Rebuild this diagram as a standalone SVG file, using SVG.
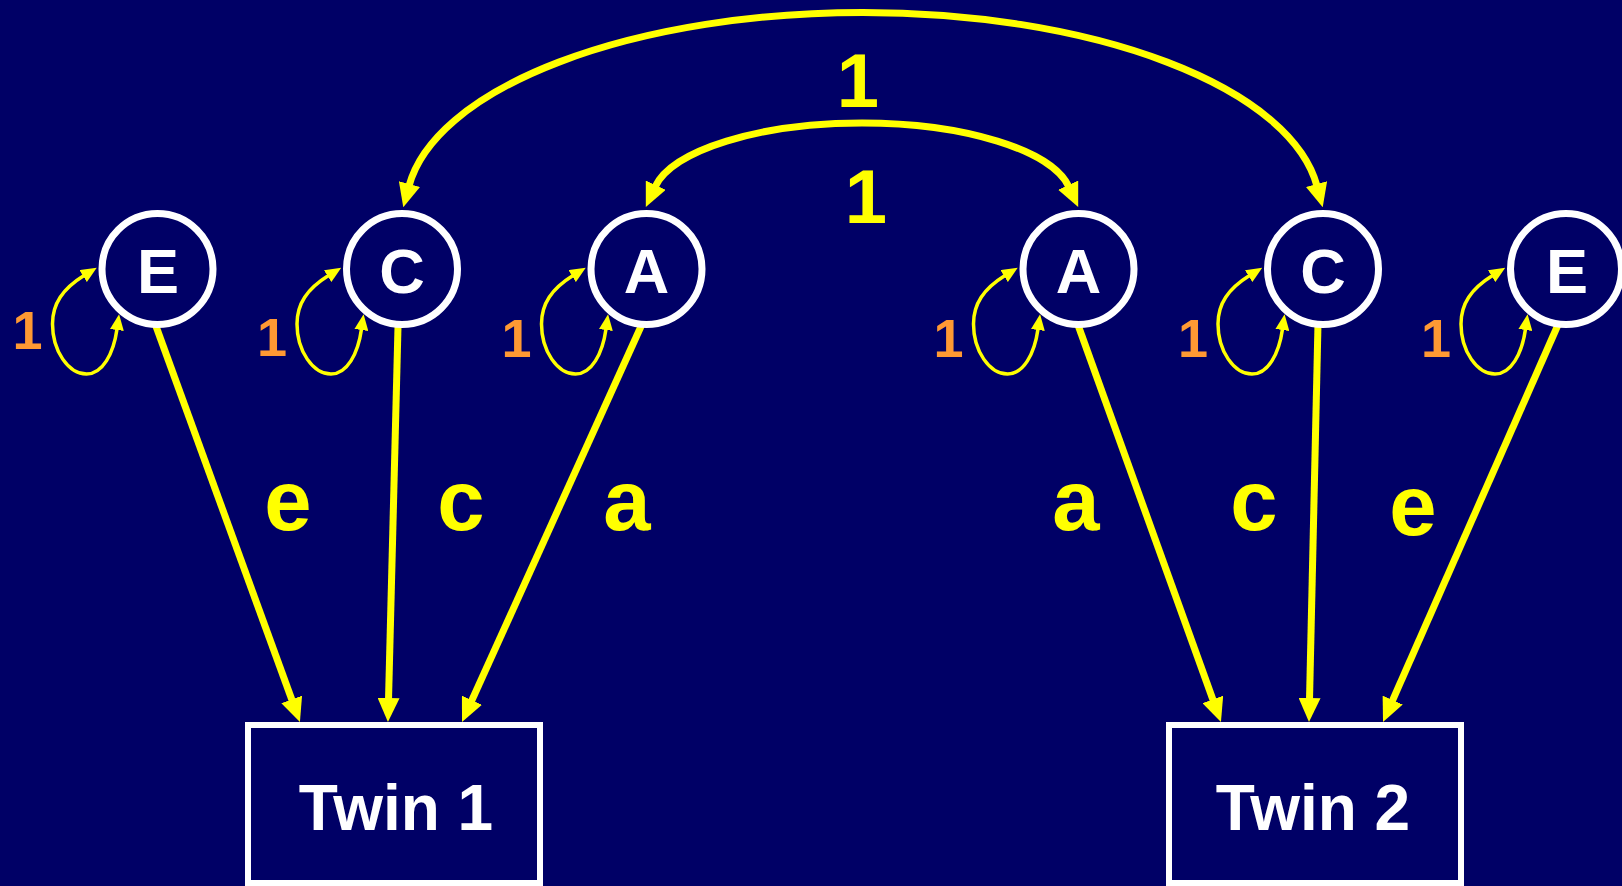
<svg xmlns="http://www.w3.org/2000/svg" width="1622" height="886" viewBox="0 0 1622 886">
<style>
.bg{fill:#000066}
.thick{fill:none;stroke:#ffff00;stroke-width:7}
.thin{fill:none;stroke:#ffff00;stroke-width:3.5}
.node circle{fill:#000066;stroke:#ffffff;stroke-width:7}
.node text{font-family:"Liberation Sans",Arial,sans-serif;font-weight:bold;font-size:63px;fill:#ffffff;text-anchor:middle}
.box rect{fill:#000066;stroke:#ffffff;stroke-width:6}
.box text{font-family:"Liberation Sans",Arial,sans-serif;font-weight:bold;font-size:64px;fill:#ffffff;text-anchor:middle}
.lbl{font-family:"Liberation Sans",Arial,sans-serif;font-weight:bold;font-size:85px;fill:#ffff00;text-anchor:middle}
.one{font-family:"Liberation Sans",Arial,sans-serif;font-weight:bold;font-size:76px;fill:#ffff00;text-anchor:middle}
.var{font-family:"Liberation Sans",Arial,sans-serif;font-weight:bold;font-size:54px;fill:#ff9933;text-anchor:middle}
</style>
<defs>
<marker id="ab" markerUnits="userSpaceOnUse" markerWidth="24" markerHeight="22" viewBox="0 0 24 22" refX="2" refY="11" orient="auto-start-reverse"><path d="M0,0 L24,11 L0,22 z" fill="#ffff00"/></marker>
<marker id="as" markerUnits="userSpaceOnUse" markerWidth="16" markerHeight="14" viewBox="0 0 16 14" refX="1" refY="7" orient="auto-start-reverse"><path d="M0,0 L16,7 L0,14 z" fill="#ffff00"/></marker>
</defs>
<rect class="bg" x="0" y="0" width="1622" height="886"/>
<g id="connectors">
<path class="thick" d="M409,186 A457,196 0 0 1 1317,186" marker-start="url(#ab)" marker-end="url(#ab)"/>
<path class="thick" d="M655,187 C672,150 760,123 862,123 C964,123 1052,150 1069,187" marker-start="url(#ab)" marker-end="url(#ab)"/>
<path class="thick" d="M153,318 L292.4,701.3" marker-end="url(#ab)"/>
<path class="thick" d="M398.3,315 L388.5,700" marker-end="url(#ab)"/>
<path class="thick" d="M643,322 L471.1,702" marker-end="url(#ab)"/>
<path class="thick" d="M1075.5,318 L1213.5,701.3" marker-end="url(#ab)"/>
<path class="thick" d="M1318.2,315 L1309.5,700" marker-end="url(#ab)"/>
<path class="thick" d="M1561,318 L1391.9,701.9" marker-end="url(#ab)"/>
<g class="loops">
<path class="thin" transform="translate(157.5,269)" d="M-73.5,6.6 C-95,20 -105,35 -105,55 C-105,82 -89,105 -71,105 C-55,105 -44,85 -40.5,60" marker-start="url(#as)" marker-end="url(#as)"/>
<path class="thin" transform="translate(402,269)" d="M-73.5,6.6 C-95,20 -105,35 -105,55 C-105,82 -89,105 -71,105 C-55,105 -44,85 -40.5,60" marker-start="url(#as)" marker-end="url(#as)"/>
<path class="thin" transform="translate(646.5,269)" d="M-73.5,6.6 C-95,20 -105,35 -105,55 C-105,82 -89,105 -71,105 C-55,105 -44,85 -40.5,60" marker-start="url(#as)" marker-end="url(#as)"/>
<path class="thin" transform="translate(1078.5,269)" d="M-73.5,6.6 C-95,20 -105,35 -105,55 C-105,82 -89,105 -71,105 C-55,105 -44,85 -40.5,60" marker-start="url(#as)" marker-end="url(#as)"/>
<path class="thin" transform="translate(1323,269)" d="M-73.5,6.6 C-95,20 -105,35 -105,55 C-105,82 -89,105 -71,105 C-55,105 -44,85 -40.5,60" marker-start="url(#as)" marker-end="url(#as)"/>
<path class="thin" transform="translate(1566,269)" d="M-73.5,6.6 C-95,20 -105,35 -105,55 C-105,82 -89,105 -71,105 C-55,105 -44,85 -40.5,60" marker-start="url(#as)" marker-end="url(#as)"/>
</g>
<text class="one" x="858" y="107">1</text>
<text class="one" x="866" y="223">1</text>
<text class="lbl" x="288" y="530">e</text>
<text class="lbl" x="461" y="530">c</text>
<text class="lbl" x="627" y="530">a</text>
<text class="lbl" x="1076" y="530">a</text>
<text class="lbl" x="1254" y="530">c</text>
<text class="lbl" x="1413" y="535">e</text>
<text class="var" x="27.5" y="349">1</text>
<text class="var" x="272" y="356">1</text>
<text class="var" x="516.5" y="357">1</text>
<text class="var" x="948.5" y="357">1</text>
<text class="var" x="1193" y="357">1</text>
<text class="var" x="1436" y="357">1</text>
</g>
<g id="E1" class="node"><circle cx="157.5" cy="269" r="55.5"/><text x="158" y="293">E</text></g>
<g id="C1" class="node"><circle cx="402" cy="269" r="55.5"/><text x="402" y="293">C</text></g>
<g id="A1" class="node"><circle cx="646.5" cy="269" r="55.5"/><text x="646.5" y="293">A</text></g>
<g id="A2" class="node"><circle cx="1078.5" cy="269" r="55.5"/><text x="1078.5" y="293">A</text></g>
<g id="C2" class="node"><circle cx="1323" cy="269" r="55.5"/><text x="1323" y="293">C</text></g>
<g id="E2" class="node"><circle cx="1566" cy="269" r="55.5"/><text x="1567" y="293">E</text></g>
<g id="Twin1" class="box"><rect x="248" y="725" width="292" height="158"/><text x="396" y="830">Twin 1</text></g>
<g id="Twin2" class="box"><rect x="1169" y="725" width="292" height="158"/><text x="1313" y="830">Twin 2</text></g>
</svg>
